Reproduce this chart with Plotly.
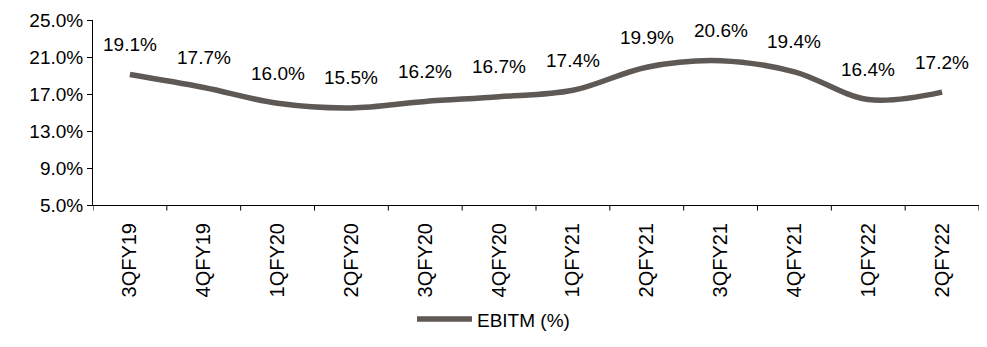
import plotly.graph_objects as go

categories = ["3QFY19", "4QFY19", "1QFY20", "2QFY20", "3QFY20", "4QFY20",
              "1QFY21", "2QFY21", "3QFY21", "4QFY21", "1QFY22", "2QFY22"]
ebitm = [19.1, 17.7, 16.0, 15.5, 16.2, 16.7, 17.4, 19.9, 20.6, 19.4, 16.4, 17.2]
y_ticks = [5.0, 9.0, 13.0, 17.0, 21.0, 25.0]
series_name = "EBITM (%)"

line_color = "#5f5955"
font_family = "Liberation Sans, Arial, sans-serif"

fig = go.Figure()
fig.add_trace(go.Scatter(
    x=categories, y=ebitm, mode="lines", name=series_name,
    line=dict(color=line_color, width=5.5, shape="spline", smoothing=1.0),
    hoverinfo="skip",
))

for c, v in zip(categories, ebitm):
    fig.add_annotation(x=c, y=v, text=f"{v:.1f}%", showarrow=False,
                       yshift=30, font=dict(size=19, color="#000000", family=font_family))

fig.update_layout(
    width=987, height=347,
    margin=dict(l=93, r=8, t=20, b=142),
    paper_bgcolor="white", plot_bgcolor="white",
    font=dict(family=font_family, size=19, color="#000000"),
    showlegend=True,
    legend=dict(orientation="h", xref="container", x=0.5, xanchor="center",
                yref="container", y=0.08, yanchor="middle", itemwidth=55,
                font=dict(size=19, family=font_family)),
)
fig.update_xaxes(
    type="category", tickangle=-90, showline=True, linecolor="#000000", linewidth=1,
    ticks="", showgrid=False, range=[-0.5, len(categories) - 0.5],
    tickfont=dict(size=20), ticklabelstandoff=9, automargin=False,
)
fig.update_yaxes(
    range=[5, 25], tickvals=y_ticks, ticktext=[f"{t:.1f}%" for t in y_ticks],
    showline=True, linecolor="#000000", linewidth=1, ticks="outside", ticklen=5,
    tickcolor="#000000", showgrid=False, zeroline=False, tickfont=dict(size=19),
    automargin=False,
)
# category boundary ticks on x axis
for i in range(len(categories) + 1):
    fig.add_shape(type="line", xref="x", yref="paper", x0=i - 0.5, x1=i - 0.5,
                  y0=0, y1=-0.03, line=dict(color="#000000", width=1))

fig.write_html("out.html")
